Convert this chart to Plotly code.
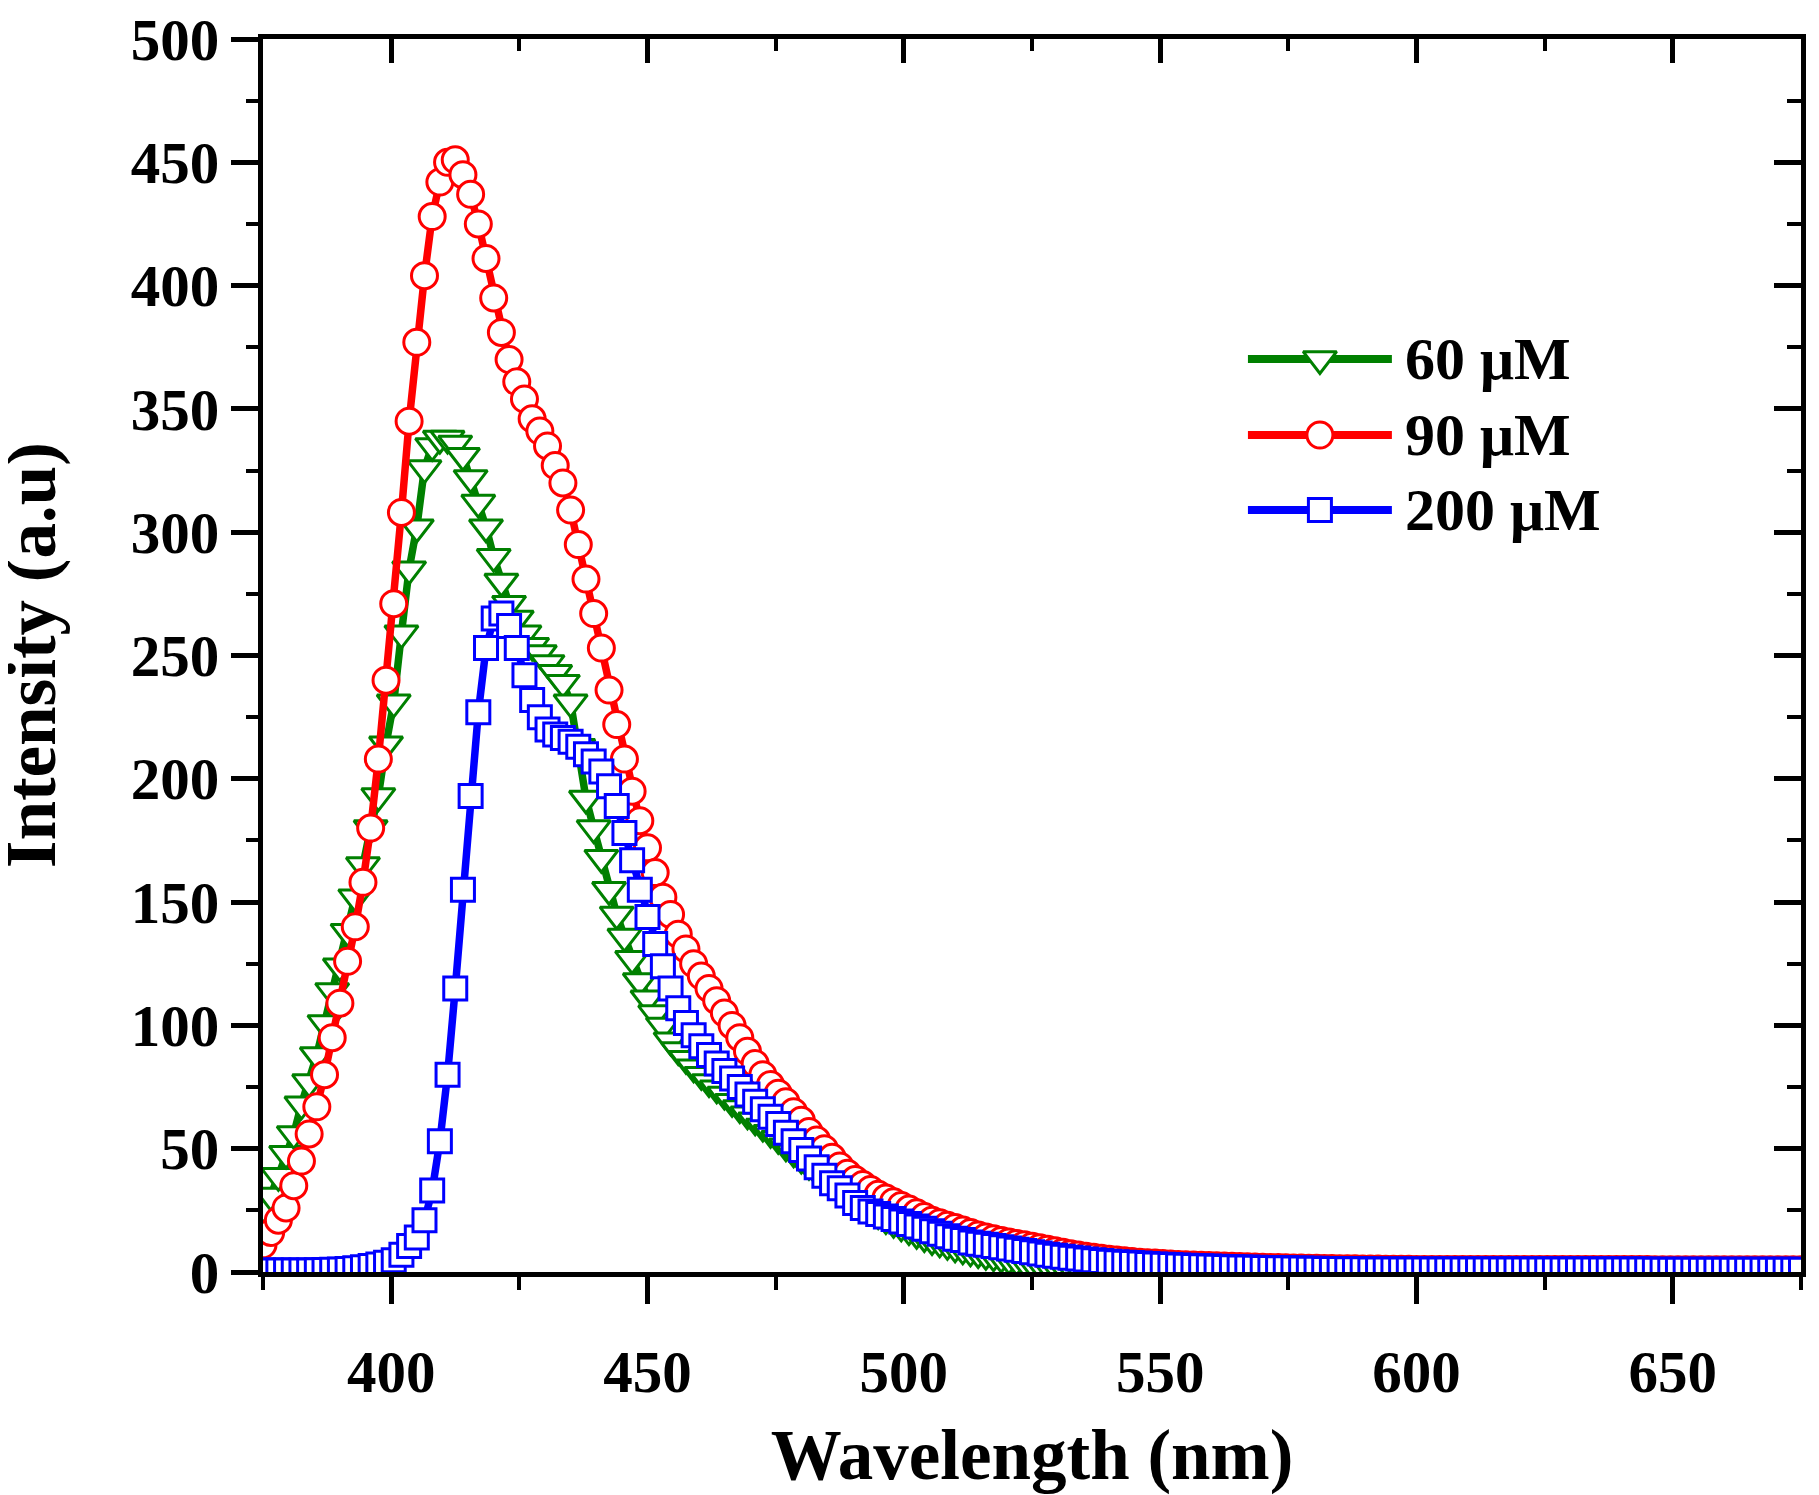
"""
Fluorescence emission spectra at three concentrations.
"""

import numpy as np
import plotly.graph_objects as go

# Spectrometer grid (nm): 201 readings, 1.5 nm apart
WL_START = 375.0
WL_STEP = 1.5
N_POINTS = 201
wavelength = np.round(WL_START + WL_STEP * np.arange(N_POINTS), 1)

series_names = ['60 μM', '90 μM', '200 μM']

tail_low = [1.0] * 31 + [0.9] * 20

intensity_60 = [
    26, 31, 39, 48, 56, 68, 77, 88, 101, 114,
    124, 138, 152, 165, 180, 193, 214, 231, 259, 285,
    302, 326, 335, 338, 338, 336, 331, 322, 312, 302,
    290, 280, 271, 265, 259, 254, 251, 247, 243, 239,
    231, 213, 192, 180, 168, 155, 145, 136, 127, 118,
    111, 105, 100, 94, 90, 86.5, 83, 80, 77, 74.5,
    72, 69, 66.5, 64, 61.5, 59, 56.5, 54, 51, 48.5,
    46, 43.5, 41, 38.5, 36, 34, 31.5, 29.5, 27.5, 25.5,
    23.5, 21.5, 20, 18.5, 17, 15.5, 14.2, 13, 12, 11,
    10, 9.2, 8.4, 7.7, 7, 6.4, 5.8, 5.2, 4.7, 4.2,
    3.7, 3.2, 2.8, 2.4, 2.1, 1.8, 1.5, 1.3, 1.1, 0.9,
    0.8, 0.7, 0.6, 0.6, 0.5, 0.5, 0.4, 0.4, 0.4, 0.3,
] + [0.3] * 81

intensity_90 = [
    11, 16, 21, 26, 35, 45, 56, 67, 80, 95,
    109, 126, 140, 158, 180, 208, 240, 271, 308, 345,
    377, 404, 428, 442, 450, 451, 445, 437, 425, 411,
    395, 381, 370, 361, 354, 346, 341, 335, 327, 320,
    309, 295, 281, 267, 253, 236, 222, 208, 195, 183,
    172, 162, 152, 145, 137, 131, 125, 120, 115, 110,
    105, 100, 95, 89.5, 84.5, 80, 76, 72.5, 69, 65,
    61.5, 57, 53.5, 50, 46.5, 43, 40, 37.5, 35.5, 33.5,
    31.5, 30, 28.5, 27, 25.5, 24, 22.5, 21, 20, 19,
    18, 17, 16, 15, 14.2, 13.5, 12.8, 12.2, 11.6, 11,
    10.4, 9.8, 9.2, 8.6, 8.0, 7.4, 6.9, 6.4, 6.0, 5.6,
    5.2, 4.9, 4.6, 4.3, 4.0, 3.8, 3.6, 3.4, 3.2, 3.0,
    2.9, 2.8, 2.7, 2.6, 2.5, 2.4, 2.3, 2.2, 2.1, 2.0,
    1.9, 1.8, 1.8, 1.7, 1.6, 1.6, 1.5, 1.5, 1.4, 1.4,
    1.3, 1.3, 1.3, 1.2, 1.2, 1.2, 1.1, 1.1, 1.1, 1.1,
] + tail_low

intensity_200 = [
    0.6, 0.6, 0.6, 0.6, 0.6, 0.6, 0.6, 0.7, 0.8, 0.9,
    1.0, 1.2, 1.5, 1.9, 2.4, 3.0, 3.8, 4.8, 7.0, 10.5,
    14, 21, 33, 53, 80, 115, 155, 193, 227, 253,
    265, 267, 262, 253, 242, 232, 225, 220, 218, 216.5,
    215, 213, 210, 207, 203, 197, 189, 178, 167, 155,
    144, 133, 124, 115, 107, 101, 96, 91.5, 88, 84.5,
    81.5, 78.5, 75, 72, 69, 66, 63, 60, 56.5, 53,
    49.5, 46, 42.5, 39, 36, 34, 31, 28, 26, 24.5,
    23.5, 22.5, 21.5, 20.5, 19.5, 18.5, 17.5, 16.5, 15.5, 14.5,
    13.5, 13, 12, 11.5, 11, 10.5, 10, 9.5, 9, 8.5,
    8, 7.5, 7, 6.6, 6.2, 5.8, 5.5, 5.1, 4.8, 4.5,
    4.2, 4.0, 3.8, 3.6, 3.4, 3.2, 3.0, 2.9, 2.8, 2.6,
    2.5, 2.4, 2.3, 2.2, 2.1, 2.0, 1.9, 1.8, 1.8, 1.7,
    1.6, 1.6, 1.5, 1.5, 1.4, 1.4, 1.3, 1.3, 1.2, 1.2,
    1.2, 1.1, 1.1, 1.1, 1.0, 1.0, 1.0, 1.0, 1.0, 1.0,
] + tail_low

x_ticks = [400, 450, 500, 550, 600, 650]
y_ticks = [0, 50, 100, 150, 200, 250, 300, 350, 400, 450, 500]

FONT = 'Liberation Serif, Times New Roman, serif'

styles = [
    dict(color='#008000', symbol='triangle-down', size=29),
    dict(color='#FF0000', symbol='circle', size=26),
    dict(color='#0000FF', symbol='square', size=23),
]
all_series = [intensity_60, intensity_90, intensity_200]

fig = go.Figure()

# Spectra: drawn in this order so the 200 uM squares sit on top
for name, values, st in zip(series_names, all_series, styles):
    fig.add_trace(
        go.Scatter(
            x=wavelength,
            y=values,
            mode='lines+markers',
            name=name,
            line=dict(color=st['color'], width=7.5),
            marker=dict(
                symbol=st['symbol'],
                size=st['size'],
                color='white',
                line=dict(color=st['color'], width=3),
            ),
            showlegend=False,
        )
    )

# Dummy trace so the mirrored (inside-tick) axes get drawn
fig.add_trace(
    go.Scatter(x=[None], y=[None], xaxis='x2', yaxis='y2',
               showlegend=False, hoverinfo='skip')
)

# Hand-made legend with long sample lines, on a hidden 0..1 axis pair
legend_rows = [0.7405, 0.6788, 0.618]
LEG_X0, LEG_X1, LEG_TEXT = 0.6404, 0.734, 0.7412
for name, st, row in zip(series_names, styles, legend_rows):
    fig.add_trace(
        go.Scatter(
            x=[LEG_X0, LEG_X1], y=[row, row], xaxis='x3', yaxis='y3',
            mode='lines', line=dict(color=st['color'], width=8),
            showlegend=False, hoverinfo='skip',
        )
    )
    fig.add_trace(
        go.Scatter(
            x=[(LEG_X0 + LEG_X1) / 2], y=[row], xaxis='x3', yaxis='y3',
            mode='markers',
            marker=dict(symbol=st['symbol'], size=st['size'], color='white',
                        line=dict(color=st['color'], width=3)),
            showlegend=False, hoverinfo='skip',
        )
    )
    fig.add_annotation(
        x=LEG_TEXT, y=row, xref='x3', yref='y3', text=name,
        showarrow=False, xanchor='left', yanchor='middle',
        font=dict(size=60, family=FONT, color='black', weight='bold'),
    )

tick_font = dict(size=59, family=FONT, color='black', weight='bold')
title_font = dict(size=71, family=FONT, color='black', weight='bold')

# y title as an annotation: an axis title would be held inside the margin
fig.add_annotation(
    text='Intensity (a.u)', textangle=-90,
    xref='paper', yref='paper', x=-0.1774, y=0.5,
    xanchor='left', yanchor='middle', showarrow=False,
    font=title_font,
)

# The page body adds an 8 px margin, so the figure is 8 px smaller each way
fig.update_layout(
    width=1811,
    height=1487,
    margin=dict(l=255, r=18, t=31, b=223),
    paper_bgcolor='white',
    plot_bgcolor='white',
    showlegend=False,
    xaxis=dict(
        range=[375, 675],
        tickvals=x_ticks,
        ticks='outside', ticklen=27, tickwidth=5, tickcolor='black',
        minor=dict(dtick=25, tick0=0, ticks='outside', ticklen=13,
                   tickwidth=4, tickcolor='black', showgrid=False),
        showline=True, linewidth=5, linecolor='black', mirror=True,
        showgrid=False, zeroline=False, automargin=False,
        tickfont=tick_font, ticklabelstandoff=17, ticklabeloverflow='allow',
        title=dict(text='Wavelength (nm)', font=title_font, standoff=46),
    ),
    yaxis=dict(
        range=[0, 500],
        tickvals=y_ticks,
        ticks='outside', ticklen=27, tickwidth=5, tickcolor='black',
        minor=dict(dtick=25, tick0=0, ticks='outside', ticklen=12,
                   tickwidth=4, tickcolor='black', showgrid=False),
        showline=True, linewidth=5, linecolor='black', mirror=True,
        showgrid=False, zeroline=False, automargin=False,
        tickfont=tick_font, ticklabelstandoff=0, ticklabeloverflow='allow',
    ),
    xaxis2=dict(
        overlaying='x', side='top', anchor='y2', range=[375, 675],
        tickvals=x_ticks, showticklabels=False,
        ticks='inside', ticklen=24, tickwidth=5, tickcolor='black',
        minor=dict(dtick=25, tick0=0, ticks='inside', ticklen=12,
                   tickwidth=4, tickcolor='black', showgrid=False),
        showline=False, showgrid=False, zeroline=False,
    ),
    yaxis2=dict(
        overlaying='y', side='right', anchor='x2', range=[0, 500],
        tickvals=y_ticks, showticklabels=False,
        ticks='inside', ticklen=27, tickwidth=5, tickcolor='black',
        minor=dict(dtick=25, tick0=0, ticks='inside', ticklen=14,
                   tickwidth=4, tickcolor='black', showgrid=False),
        showline=False, showgrid=False, zeroline=False,
    ),
    xaxis3=dict(overlaying='x', anchor='y3', range=[0, 1], visible=False),
    yaxis3=dict(overlaying='y', anchor='x3', range=[0, 1], visible=False),
)

fig.write_html('out.html')
